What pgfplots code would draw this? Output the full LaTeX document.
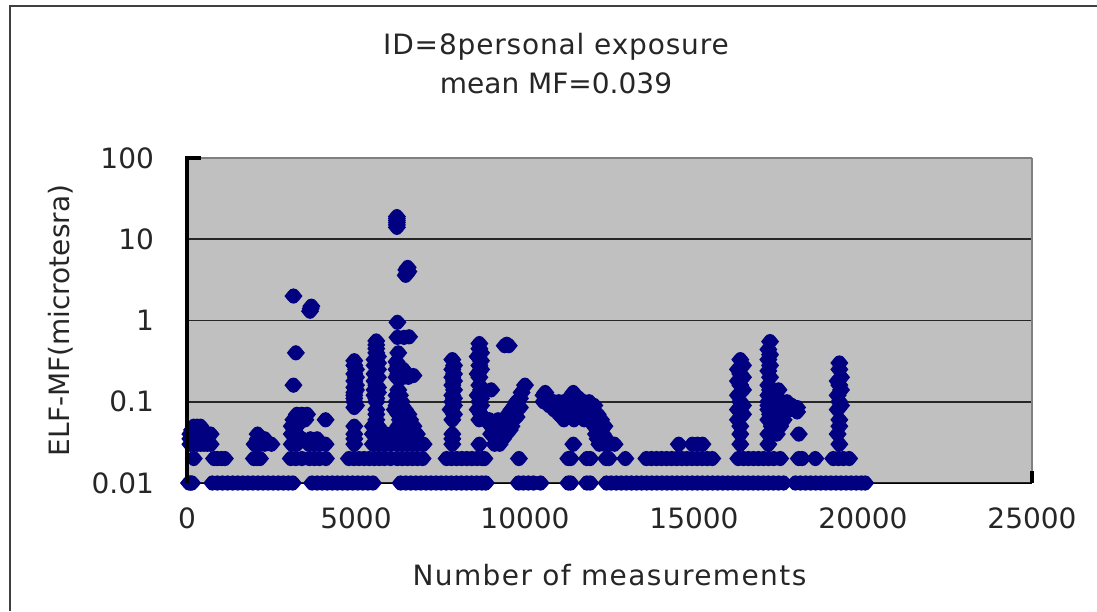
\documentclass[border=0pt]{standalone}
\usepackage{fontspec}
\setmainfont{DejaVu Sans}
\usepackage{pgfplots}
\pgfplotsset{compat=1.18}
\definecolor{plotgray}{HTML}{C0C0C0}
\definecolor{marknavy}{HTML}{000080}
% stubby rounded diamond, wider than tall
\pgfdeclareplotmark{blob}{%
  \pgfpathmoveto{\pgfqpoint{\pgfplotmarksize}{0pt}}%
  \pgfpathlineto{\pgfqpoint{0.6\pgfplotmarksize}{0.5\pgfplotmarksize}}%
  \pgfpathlineto{\pgfqpoint{0.35\pgfplotmarksize}{0.75\pgfplotmarksize}}%
  \pgfpathlineto{\pgfqpoint{0pt}{0.85\pgfplotmarksize}}%
  \pgfpathlineto{\pgfqpoint{-0.35\pgfplotmarksize}{0.75\pgfplotmarksize}}%
  \pgfpathlineto{\pgfqpoint{-0.6\pgfplotmarksize}{0.5\pgfplotmarksize}}%
  \pgfpathlineto{\pgfqpoint{-\pgfplotmarksize}{0pt}}%
  \pgfpathlineto{\pgfqpoint{-0.6\pgfplotmarksize}{-0.5\pgfplotmarksize}}%
  \pgfpathlineto{\pgfqpoint{-0.35\pgfplotmarksize}{-0.75\pgfplotmarksize}}%
  \pgfpathlineto{\pgfqpoint{0pt}{-0.85\pgfplotmarksize}}%
  \pgfpathlineto{\pgfqpoint{0.35\pgfplotmarksize}{-0.75\pgfplotmarksize}}%
  \pgfpathlineto{\pgfqpoint{0.6\pgfplotmarksize}{-0.5\pgfplotmarksize}}%
  \pgfpathclose\pgfusepathqfill}
\begin{document}
\begin{tikzpicture}[x=0.5pt,y=0.5pt]
% page is 1097x611 px at 0.5pt per px, axis corner sits at px (187,483)
\useasboundingbox (-187,-128) rectangle (910,483);
\draw[black!75,line width=0.8pt] (-177,-128) -- (-177,477) -- (910,477);
\node[font=\fontsize{14}{17}\selectfont\addfontfeatures{LetterSpace=3},text=black!85] at (369,436) {ID=8personal exposure};
\node[font=\fontsize{14}{17}\selectfont,text=black!85] at (369,400) {mean MF=0.039};
\begin{axis}[
  at={(0,0)}, anchor=south west,
  scale only axis,
  width=422.5pt, height=162.5pt,
  xmode=normal, ymode=log,
  xmin=0, xmax=25000, ymin=0.01, ymax=100,
  axis background/.style={fill=plotgray},
  clip=false,
  axis x line*=bottom, axis y line*=left,
  axis line style={-},
  xtick={0,5000,10000,15000,20000,25000},
  ytick={0.01,0.1,1,10,100},
  yticklabels={0.01,0.1,1,10,100},
  yminorticks=false,
  scaled x ticks=false,
  x tick label style={/pgf/number format/1000 sep={},yshift=-9pt},
  y tick label style={xshift=-13pt},
  /pgf/number format/assume math mode=true,
  tick label style={font=\fontsize{14}{16}\selectfont,text=black!85},
  log ticks with fixed point,
  major tick length=0pt,
  ymajorgrids, grid style={black!85, line width=0.8pt},
  xlabel={Number of measurements},
  ylabel={ELF-MF(microtesra)},
  xlabel style={font=\fontsize{14}{16}\selectfont\addfontfeatures{LetterSpace=5},text=black!85,at={(axis description cs:0.5,0)},anchor=center,yshift=-46pt},
  ylabel style={font=\fontsize{14}{16}\selectfont,text=black!85,at={(axis description cs:0,0.5)},anchor=center,yshift=63pt},
]
\addplot[only marks, mark=blob, mark size=4.5pt, color=marknavy] coordinates {
% 0.01 row
(60,0.01)(110,0.01)(150,0.01)
(750,0.01)(900,0.01)(1050,0.01)(1200,0.01)(1350,0.01)(1500,0.01)(1650,0.01)(1800,0.01)(1950,0.01)(2100,0.01)(2250,0.01)(2400,0.01)(2550,0.01)(2700,0.01)(2850,0.01)(3000,0.01)(3130,0.01)
(3700,0.01)(3850,0.01)(4000,0.01)(4150,0.01)(4300,0.01)(4450,0.01)(4600,0.01)(4750,0.01)(4900,0.01)(5050,0.01)(5200,0.01)(5350,0.01)(5500,0.01)
(6320,0.01)(6470,0.01)(6620,0.01)(6770,0.01)(6920,0.01)(7070,0.01)(7220,0.01)(7370,0.01)(7520,0.01)(7670,0.01)(7820,0.01)(7970,0.01)(8120,0.01)(8270,0.01)(8420,0.01)(8570,0.01)(8720,0.01)(8840,0.01)
(9810,0.01)(9950,0.01)(10100,0.01)(10250,0.01)(10460,0.01)
(11280,0.01)(11350,0.01)
(11830,0.01)(11930,0.01)
(12410,0.01)(12550,0.01)(12700,0.01)(12850,0.01)(13000,0.01)(13150,0.01)(13300,0.01)(13450,0.01)(13600,0.01)(13750,0.01)(13900,0.01)(14050,0.01)(14200,0.01)(14350,0.01)(14500,0.01)(14650,0.01)(14800,0.01)(14950,0.01)(15100,0.01)(15250,0.01)(15400,0.01)(15550,0.01)(15700,0.01)(15850,0.01)(16000,0.01)(16150,0.01)(16300,0.01)(16450,0.01)(16600,0.01)(16750,0.01)(16900,0.01)(17050,0.01)(17200,0.01)(17350,0.01)(17500,0.01)(17650,0.01)
(18000,0.01)(18150,0.01)(18300,0.01)(18450,0.01)(18600,0.01)(18750,0.01)(18900,0.01)(19050,0.01)(19200,0.01)(19350,0.01)(19500,0.01)(19650,0.01)(19800,0.01)(19950,0.01)(20065,0.01)
% 0.02 row
(200,0.02)(800,0.02)(900,0.02)(1020,0.02)(1120,0.02)
(1980,0.02)(2070,0.02)(2160,0.02)
(3070,0.02)(3220,0.02)(3400,0.02)(3620,0.02)(3770,0.02)(3920,0.02)(4110,0.02)
(4790,0.02)(4940,0.02)(5090,0.02)(5240,0.02)(5390,0.02)(5540,0.02)(5690,0.02)(5840,0.02)(6020,0.02)(6220,0.02)(6370,0.02)(6520,0.02)(6670,0.02)(6820,0.02)(6970,0.02)
(7680,0.02)(7830,0.02)(7980,0.02)(8130,0.02)(8280,0.02)(8430,0.02)(8580,0.02)(8730,0.02)(8800,0.02)
(9820,0.02)
(11280,0.02)(11350,0.02)(11830,0.02)(11930,0.02)(12400,0.02)(12480,0.02)(12970,0.02)
(13590,0.02)(13740,0.02)(13890,0.02)(14040,0.02)(14190,0.02)(14340,0.02)(14490,0.02)(14640,0.02)(14790,0.02)(14940,0.02)(15090,0.02)(15240,0.02)(15390,0.02)(15540,0.02)
(16310,0.02)(16460,0.02)(16610,0.02)(16760,0.02)(16910,0.02)(17060,0.02)(17210,0.02)(17360,0.02)(17550,0.02)
(18100,0.02)(18200,0.02)(18590,0.02)
(19120,0.02)(19270,0.02)(19420,0.02)(19590,0.02)
% 0.03 and up, left block
(100,0.03)(200,0.03)(300,0.03)(400,0.03)(500,0.03)(600,0.03)(700,0.03)
(100,0.035)(250,0.035)(400,0.035)(550,0.035)
(100,0.04)(200,0.04)(300,0.04)(400,0.04)(500,0.04)(600,0.04)(700,0.04)
(150,0.045)(300,0.045)(450,0.045)(200,0.05)(300,0.05)(400,0.05)
(2090,0.04)(2000,0.03)(2150,0.03)(2300,0.03)(2500,0.03)(2100,0.035)(2300,0.035)
(3100,0.03)(3250,0.03)(3100,0.04)(3250,0.04)(3100,0.05)(3250,0.05)(3150,0.06)(3300,0.06)(3250,0.07)(3400,0.07)(3550,0.07)(3500,0.06)
(3600,0.03)(3750,0.03)(3900,0.03)(4100,0.03)(4100,0.06)(3400,0.035)(3650,0.035)(3850,0.035)
(3150,0.16)(3220,0.4)(3150,2)(3640,1.3)(3660,1.4)(3680,1.5)
% 5000 columns
(4950,0.03)(4950,0.035)(4950,0.04)(4950,0.05)
(4950,0.1)(4950,0.11)(4950,0.12)(4950,0.13)(5000,0.14)(4950,0.15)(5000,0.16)(4950,0.18)(5000,0.2)(4950,0.22)(5000,0.25)(4950,0.28)(4950,0.32)(5000,0.09)(4950,0.085)
(5500,0.03)(5650,0.03)(5800,0.03)(5500,0.04)(5650,0.04)(5800,0.04)(5500,0.05)(5650,0.05)(5600,0.06)(5600,0.07)(5600,0.08)
(5600,0.1)(5600,0.11)(5550,0.12)(5650,0.13)(5550,0.14)(5650,0.15)(5600,0.16)(5550,0.18)(5650,0.2)(5550,0.22)(5650,0.25)(5550,0.28)(5650,0.3)(5550,0.33)(5650,0.36)(5600,0.4)(5600,0.45)(5600,0.5)(5600,0.56)
% 6000-7000 cluster
(5900,0.03)(6050,0.03)(6200,0.03)(6350,0.03)(6500,0.03)(6650,0.03)(6800,0.03)(7000,0.03)
(5900,0.04)(6050,0.04)(6200,0.04)(6350,0.04)(6500,0.04)(6650,0.04)(6800,0.04)
(5650,0.035)(5850,0.035)(6100,0.035)(6300,0.035)(6600,0.035)(6800,0.035)
(6250,0.05)(6400,0.05)(6550,0.05)(6700,0.05)(6300,0.06)(6450,0.06)(6600,0.06)(6250,0.07)(6400,0.07)(6550,0.07)
(6150,0.08)(6300,0.08)(6450,0.08)(6200,0.09)(6350,0.09)(6200,0.1)(6350,0.1)(6200,0.12)(6300,0.12)(6250,0.14)
(6200,0.2)(6400,0.2)(6550,0.2)(6700,0.21)(6250,0.22)(6450,0.23)(6200,0.25)(6400,0.25)(6250,0.28)(6200,0.31)(6250,0.4)(6225,0.62)(6420,0.62)(6570,0.63)(6225,0.95)
(6210,14)(6210,15)(6210,16)(6210,17)(6210,18)(6210,19)
(6470,3.6)(6510,3.8)(6550,4)(6490,4.2)(6530,4.5)
% 8000-10000
(7850,0.03)(7850,0.035)(7850,0.04)(7850,0.06)(7900,0.07)(7800,0.08)(7900,0.09)(7850,0.1)(7900,0.11)(7850,0.12)(7900,0.14)(7850,0.16)(7900,0.18)(7850,0.2)(7900,0.22)(7850,0.25)(7900,0.28)(7850,0.33)
(8650,0.03)(8650,0.06)(8700,0.07)(8600,0.08)(8700,0.09)(8650,0.1)(8700,0.11)(8600,0.12)(8700,0.14)(8650,0.16)
(8650,0.2)(8600,0.22)(8700,0.25)(8650,0.28)(8700,0.32)(8600,0.36)(8700,0.4)(8650,0.45)(8650,0.52)(9000,0.14)
(8950,0.06)(9000,0.05)(9150,0.05)(9000,0.04)(9150,0.04)(9300,0.04)(9450,0.04)(9100,0.03)(9250,0.03)(9300,0.05)(9450,0.05)(9600,0.05)(9400,0.06)(9550,0.06)(9500,0.07)(9650,0.07)(9600,0.08)(9700,0.09)(9750,0.1)(9850,0.11)(9900,0.13)(10000,0.16)
(9150,0.035)(9350,0.035)(9550,0.045)(9750,0.065)(9850,0.085)(9200,0.06)
(9400,0.49)(9460,0.51)(9520,0.49)
% 10500-13000
(10550,0.1)(10550,0.12)(10600,0.13)(10700,0.09)(10700,0.11)(10850,0.08)(10850,0.1)(11000,0.07)(11000,0.09)(11000,0.1)(11150,0.06)(11150,0.08)(11150,0.1)(11300,0.07)(11300,0.09)(11300,0.11)(11430,0.13)(11450,0.06)(11450,0.08)(11450,0.1)(11600,0.07)(11600,0.09)(11600,0.11)(11750,0.06)(11750,0.08)(11750,0.1)(11900,0.06)(11900,0.08)(11900,0.1)(12050,0.07)(12050,0.09)(12150,0.07)(12200,0.05)(12250,0.06)(12300,0.04)(12350,0.05)(12200,0.03)(12350,0.03)(12500,0.03)(12650,0.03)(11430,0.03)
(12050,0.05)(12100,0.04)(12150,0.035)(12400,0.035)
% flat 15000
(14550,0.03)(14950,0.03)(15100,0.03)(15250,0.03)
% 16000-19500
(16370,0.03)(16370,0.04)(16370,0.05)(16300,0.06)(16450,0.07)(16300,0.08)(16450,0.09)(16370,0.1)(16300,0.12)(16450,0.14)(16370,0.16)(16300,0.18)(16450,0.2)(16370,0.22)(16300,0.25)(16450,0.28)(16370,0.33)
(17200,0.03)(17200,0.04)(17300,0.05)(17200,0.06)(17250,0.07)(17200,0.08)(17200,0.09)(17200,0.1)(17200,0.12)(17250,0.14)(17200,0.16)(17250,0.2)(17200,0.24)(17250,0.28)(17200,0.33)(17250,0.38)(17200,0.44)(17250,0.55)
(17500,0.14)(17400,0.12)(17600,0.1)(17750,0.1)(17900,0.09)(18050,0.085)(17400,0.08)(17550,0.08)(17700,0.08)(17850,0.08)(18050,0.075)(17500,0.06)(17650,0.06)(17550,0.05)(17450,0.04)(18100,0.04)
(19300,0.03)(19250,0.04)(19300,0.05)(19300,0.06)(19250,0.08)(19350,0.09)(19300,0.1)(19250,0.12)(19350,0.14)(19300,0.16)(19250,0.18)(19350,0.2)(19300,0.25)(19300,0.3)
};
\end{axis}
\draw[gray,line width=0.6pt] (0,325) -- (845,325);
\draw[gray,line width=1.4pt] (845,325) -- (845,0);
\draw[black,line width=1.6pt] (0,0) -- (0,325) -- (14,325);
\draw[black,line width=1.6pt] (845,0) -- (845,12);
\end{tikzpicture}
\end{document}
